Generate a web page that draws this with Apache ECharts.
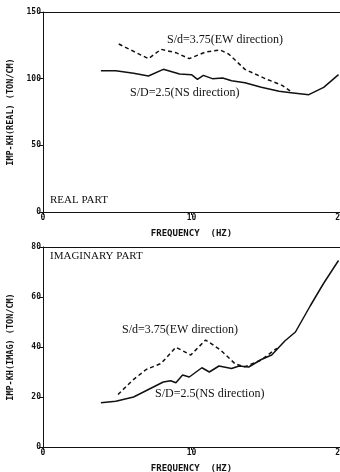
<!DOCTYPE html>
<html><head><meta charset="utf-8">
<script src="https://cdn.jsdelivr.net/npm/echarts@6/dist/echarts.min.js"></script>
<style>html,body{margin:0;padding:0;background:#fff}#c{width:340px;height:472px}</style>
</head><body><div id="c"></div>
<script>
// Frequency ticks (Hz)
const xTicks = [0, 10, 20];
const realTicks = [0, 50, 100, 150];
const imagTicks = [0, 20, 40, 60, 80];

// REAL PART  [frequency Hz, value TON/CM]
const realNS = [[3.9,106],[4.9,106],[6.1,104],[7.1,102],[8.1,107],[9.2,103.5],[10.0,103],[10.4,99.5],[10.8,102.5],[11.4,100],[12.1,100.5],[12.7,98.5],[13.6,97],[14.7,93.5],[15.9,90.5],[16.7,89.5],[17.9,88],[18.9,93.5],[19.9,103]];
const realEW = [[5.1,126],[7.1,115],[7.95,122],[8.95,119.5],[9.85,115],[10.95,120],[11.95,121.5],[12.5,118.5],[13.6,107],[14.97,100],[16.1,95],[16.75,90]];

// IMAGINARY PART
const imagNS = [[3.9,17.7],[4.9,18.3],[6.1,20],[7.1,23],[8.1,26],[8.6,26.5],[8.95,25.7],[9.4,28.8],[9.85,28],[10.7,31.7],[11.2,30],[11.85,32.4],[12.7,31.4],[13.2,32.4],[13.85,32],[14.7,35],[15.4,36.8],[16.3,42.5],[17,46],[18,56.5],[18.9,65.5],[19.9,74.6]];
const imagEW = [[5.05,21],[6.05,26.8],[6.95,31],[7.95,33.4],[8.95,39.9],[9.95,36.8],[10.95,42.8],[11.95,38.8],[12.95,33.2],[13.6,32.1],[14.7,34.8],[15.75,39.5]];

const ink = '#111';
const tickFont = {color: ink, fontFamily: 'DejaVu Sans Mono', fontWeight: 'bold', fontSize: 8};
const nameFont = {color: ink, fontFamily: 'DejaVu Sans Mono', fontWeight: 'bold', fontSize: 9};
const serif = 'Liberation Serif';

function xAx(gi) {
  return {
    type: 'value', gridIndex: gi, min: xTicks[0], max: xTicks[xTicks.length-1], interval: 10,
    name: 'FREQUENCY  (HZ)', nameLocation: 'middle', nameGap: 17, nameTextStyle: nameFont,
    axisLine: {lineStyle: {color: ink, width: 1}},
    axisTick: {show: true, length: 3, lineStyle: {color: ink}},
    axisLabel: Object.assign({margin: 2}, tickFont),
    splitLine: {show: false}
  };
}
function topAx(gi) {
  return {
    type: 'value', gridIndex: gi, position: 'top', min: 0, max: 20,
    axisLine: {show: true, lineStyle: {color: ink, width: 1}},
    axisTick: {show: false}, axisLabel: {show: false}, splitLine: {show: false}
  };
}
function yAx(gi, ticks, name) {
  return {
    type: 'value', gridIndex: gi, min: ticks[0], max: ticks[ticks.length-1], interval: ticks[1]-ticks[0],
    name: name, nameLocation: 'middle', nameGap: 28, nameTextStyle: Object.assign({}, nameFont, {fontSize: 8.5}),
    axisLine: {show: true, lineStyle: {color: ink, width: 1}},
    axisTick: {show: true, length: 4, lineStyle: {color: ink}},
    axisLabel: Object.assign({margin: 2}, tickFont),
    splitLine: {show: false}
  };
}
function line(data, xi, yi, dashed) {
  return {
    type: 'line', data: data, xAxisIndex: xi, yAxisIndex: yi, symbol: 'none', smooth: false,
    lineStyle: {color: ink, width: 1.5, type: dashed ? [4, 3] : 'solid'}
  };
}
function txt(x, y, s, size) {
  return {type: 'text', left: x, top: y, style: {text: s, fill: ink, font: size + 'px "' + serif + '"'}};
}

const chart = echarts.init(document.getElementById('c'), null, {renderer: 'canvas'});
chart.setOption({
  animation: false,
  backgroundColor: '#fff',
  grid: [
    {left: 43, right: 0, top: 12, height: 200, containLabel: false, outerBoundsMode: 'none'},
    {left: 43, right: 0, top: 247, height: 200, containLabel: false, outerBoundsMode: 'none'}
  ],
  xAxis: [xAx(0), xAx(1), topAx(0), topAx(1)],
  yAxis: [yAx(0, realTicks, 'IMP-KH(REAL) (TON/CM)'), yAx(1, imagTicks, 'IMP-KH(IMAG) (TON/CM)')],
  series: [
    line(realNS, 0, 0, false),
    line(realEW, 0, 0, true),
    line(imagNS, 1, 1, false),
    line(imagEW, 1, 1, true)
  ],
  graphic: [
    txt(167, 34, 'S/d=3.75(EW direction)', 12),
    txt(130, 87, 'S/D=2.5(NS direction)', 12),
    txt(50, 195, 'REAL PART', 11),
    txt(50, 251, 'IMAGINARY PART', 11),
    txt(122, 324, 'S/d=3.75(EW direction)', 12),
    txt(155, 388, 'S/D=2.5(NS direction)', 12)
  ]
});
</script></body></html>
